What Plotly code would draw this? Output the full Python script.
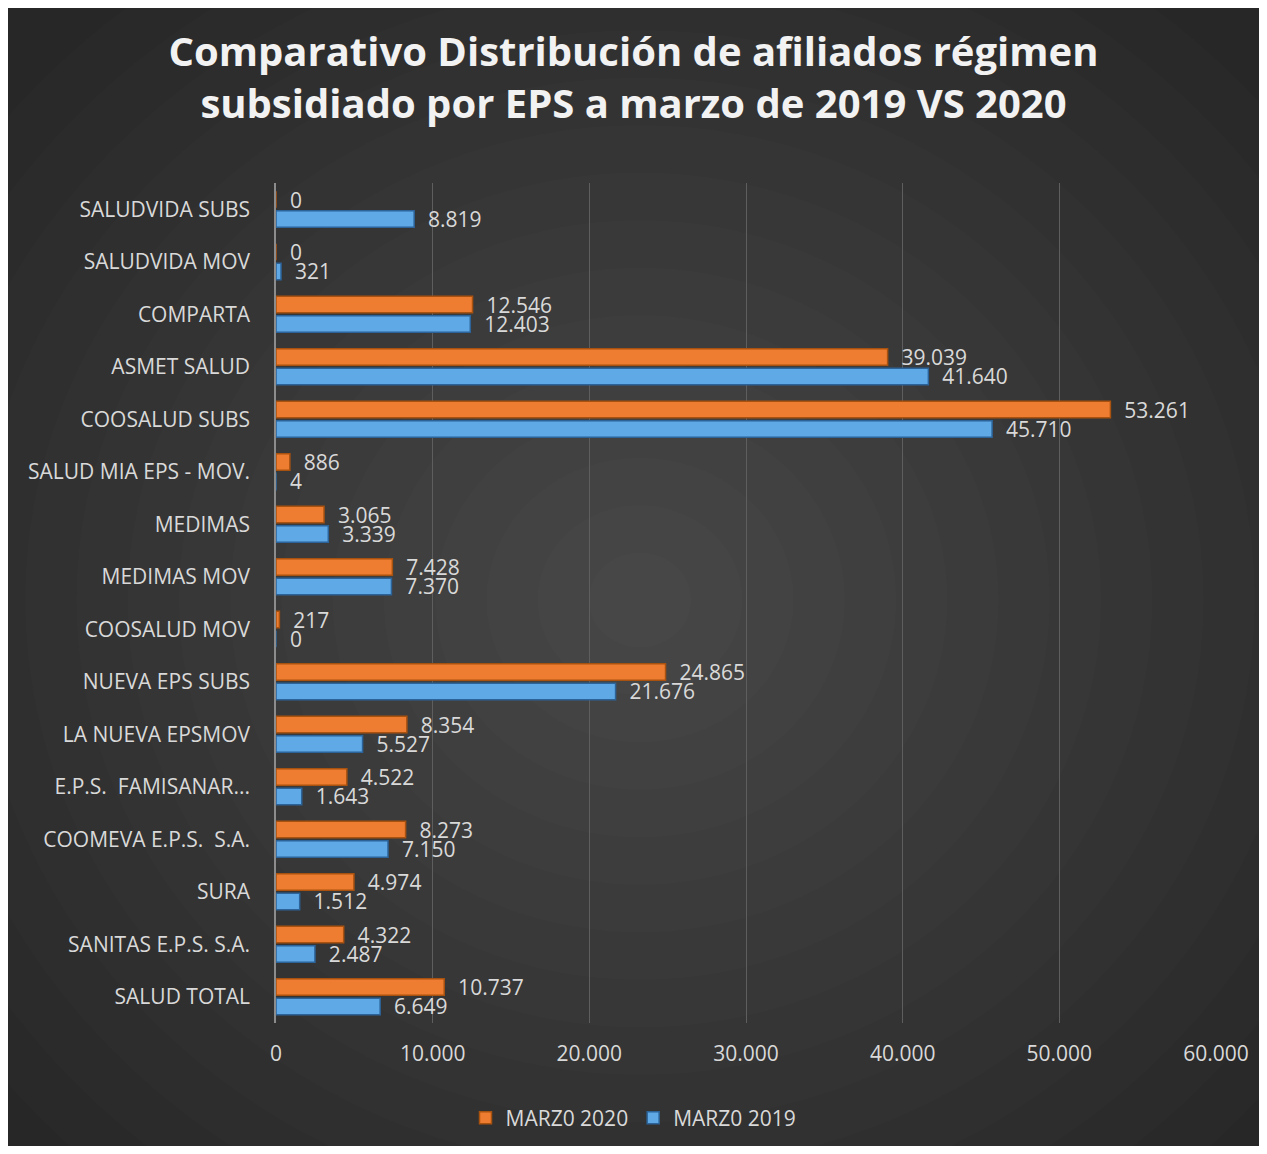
import plotly.graph_objects as go

categories = [
    "SALUDVIDA SUBS", "SALUDVIDA MOV", "COMPARTA", "ASMET SALUD", "COOSALUD SUBS",
    "SALUD MIA EPS - MOV.", "MEDIMAS", "MEDIMAS MOV", "COOSALUD MOV", "NUEVA EPS SUBS",
    "LA NUEVA EPSMOV", "E.P.S.\u00a0\u00a0FAMISANAR...", "COOMEVA E.P.S.\u00a0\u00a0S.A.", "SURA",
    "SANITAS E.P.S. S.A.", "SALUD TOTAL",
]
marzo_2020 = [0, 0, 12546, 39039, 53261, 886, 3065, 7428, 217, 24865, 8354, 4522, 8273, 4974, 4322, 10737]
marzo_2019 = [8819, 321, 12403, 41640, 45710, 4, 3339, 7370, 0, 21676, 5527, 1643, 7150, 1512, 2487, 6649]
x_ticks = [0, 10000, 20000, 30000, 40000, 50000, 60000]

# figure sits inside the page with an 8px body margin
W, H = 1251, 1138
L, R, T, B = 268, 1208, 175, 1015
pw, ph = R - L, B - T


def px_x(p):
    return (p - L) / pw


def px_y(p):
    return (B - p) / ph


FONT = "Open Sans"
TXT = "#d9d9d9"
FS = 21

fig = go.Figure()
fig.add_trace(go.Bar(
    y=categories, x=marzo_2020, orientation="h", name="MARZ0 2020",
    marker=dict(color="#ee7d31", line=dict(color="#a9520f", width=1.5)),
    texttemplate="\u00a0\u00a0%{x:,}", textposition="outside", constraintext="none",
    textfont=dict(color=TXT, size=FS, family=FONT), cliponaxis=False,
))
fig.add_trace(go.Bar(
    y=categories, x=marzo_2019, orientation="h", name="MARZ0 2019",
    marker=dict(color="#5ea9e6", line=dict(color="#2c6398", width=1.5)),
    texttemplate="\u00a0\u00a0%{x:,}", textposition="outside", constraintext="none",
    textfont=dict(color=TXT, size=FS, family=FONT), cliponaxis=False,
))

shapes = []
cx, cy = 632, 592
n = 16
for i in range(n):
    f = 1 - i / n
    rx, ry = 820 * f, 760 * f
    shapes.append(dict(type="circle", xref="paper", yref="paper",
                       x0=px_x(cx - rx), x1=px_x(cx + rx),
                       y0=px_y(cy + ry), y1=px_y(cy - ry),
                       fillcolor="rgba(255,255,255,0.011)", line=dict(width=0), layer="below"))

fig.update_layout(
    width=W, height=H,
    paper_bgcolor="#272727", plot_bgcolor="rgba(0,0,0,0)",
    margin=dict(l=L, r=W - R, t=T, b=H - B, autoexpand=False),
    separators=",.",
    barmode="group", bargap=0.26, bargroupgap=0.15,
    font=dict(family=FONT, color=TXT, size=FS),
    title=dict(text="<b>Comparativo Distribución de afiliados régimen<br>subsidiado por EPS a marzo de 2019 VS 2020</b>",
               x=0.5, xref="container", xanchor="center",
               y=1 - 58 / H, yref="container", yanchor="middle",
               font=dict(family=FONT, size=40, color="#f2f2f2")),
    xaxis=dict(range=[0, 60000], tickvals=x_ticks, tickformat=",", showgrid=True,
               gridcolor="#5e5e5e", gridwidth=1, zeroline=False, showline=False,
               tickfont=dict(size=FS, color=TXT, family=FONT), ticklabelstandoff=16),
    yaxis=dict(autorange="reversed", showgrid=False, showline=True, linecolor="#8c8c8c", linewidth=1.5,
               tickfont=dict(size=FS, color=TXT, family=FONT), ticklabelstandoff=20),
    legend=dict(orientation="h", x=0.5, xref="container", xanchor="center",
                y=1 - 1110 / H, yref="container", yanchor="middle",
                font=dict(size=FS, color=TXT, family=FONT), bgcolor="rgba(0,0,0,0)"),
    shapes=shapes,
)

fig.write_html("out.html")
